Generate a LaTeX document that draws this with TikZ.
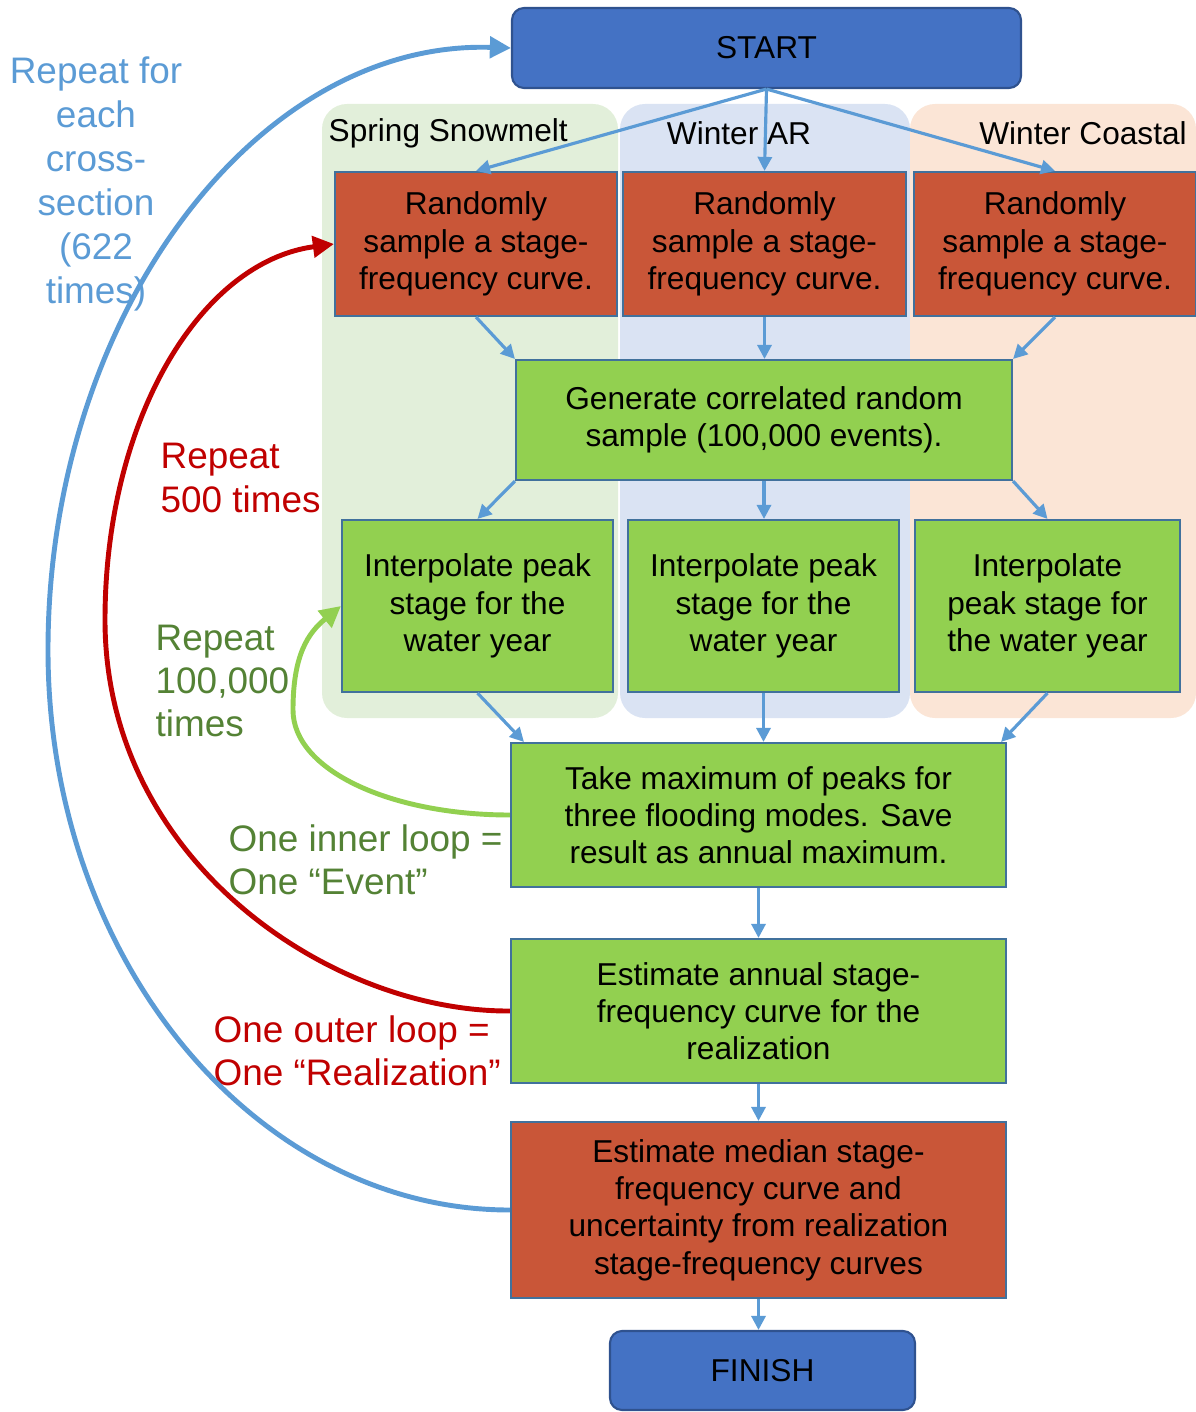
\documentclass[tikz,border=0pt]{standalone}
\usepackage{fontspec}
\setmainfont{Liberation Sans}
\usepackage{xcolor}
\usepackage{tikz}
\usetikzlibrary{arrows.meta}
\definecolor{flblue}{RGB}{68,114,196}
\definecolor{fldarkblue}{RGB}{47,82,143}
\definecolor{flborder}{RGB}{65,113,156}
\definecolor{flarrow}{RGB}{91,155,213}
\definecolor{flred}{RGB}{201,86,56}
\definecolor{flgreen}{RGB}{146,208,80}
\definecolor{fldarkred}{RGB}{192,0,0}
\definecolor{fltextgreen}{RGB}{84,130,53}
\definecolor{flpgreen}{RGB}{226,239,218}
\definecolor{flpblue}{RGB}{218,227,243}
\definecolor{flporange}{RGB}{251,229,214}

\begin{document}
\begin{tikzpicture}[every node/.style={font=\fontsize{9}{10.6}\selectfont},
    panel/.style={rounded corners=0.25cm, inner sep=0pt},
    termbox/.style={draw=fldarkblue, fill=flblue, rounded corners=0.12cm, line width=0.6pt, inner sep=0pt},
    redbox/.style={draw=flborder, fill=flred, line width=0.6pt, align=center, inner sep=0pt},
    greenbox/.style={draw=flborder, fill=flgreen, line width=0.6pt, align=center, inner sep=0pt},
    looptext/.style={font=\fontsize{10.5}{12.3}\selectfont, align=left, inner sep=0pt, anchor=west},
    flow/.style={-{Triangle[length=4pt, width=4pt]}, flarrow, line width=0.9pt},
    loop/.style={-{Triangle[length=6pt, width=6pt]}, line width=1.4pt}]
        \useasboundingbox (0,0) rectangle (11.96,-14.12);
        % background panels
        \node[panel, fill=flpgreen, minimum width=2.96cm, minimum height=6.14cm] (pnlA) at (4.70,-4.11) {};
        \node[panel, fill=flpblue, minimum width=2.90cm, minimum height=6.14cm] (pnlB) at (7.65,-4.11) {};
        \node[panel, fill=flporange, minimum width=2.86cm, minimum height=6.14cm] (pnlC) at (10.53,-4.11) {};
        \node[anchor=west, inner sep=0pt] (lblA) at (3.28,-1.33) {Spring Snowmelt};
        \node[inner sep=0pt] (lblB) at (7.39,-1.33) {Winter AR};
        \node[inner sep=0pt] (lblC) at (10.83,-1.33) {Winter Coastal};
        % main flow
        \node[termbox, minimum width=5.09cm, minimum height=0.80cm] (start) at (7.665,-0.48) {START};
        \node[redbox, minimum width=2.82cm, minimum height=1.44cm] (sampA) at (4.76,-2.44) {Randomly\\sample a stage-\\frequency curve.};
        \node[redbox, minimum width=2.83cm, minimum height=1.44cm] (sampB) at (7.645,-2.44) {Randomly\\sample a stage-\\frequency curve.};
        \node[redbox, minimum width=2.82cm, minimum height=1.44cm] (sampC) at (10.55,-2.44) {Randomly\\sample a stage-\\frequency curve.};
        \node[greenbox, minimum width=4.96cm, minimum height=1.20cm] (gen) at (7.64,-4.20) {Generate correlated random\\sample (100,000 events).};
        \node[greenbox, minimum width=2.71cm, minimum height=1.72cm] (interpA) at (4.775,-6.06) {Interpolate peak\\stage for the\\water year};
        \node[greenbox, minimum width=2.71cm, minimum height=1.72cm] (interpB) at (7.635,-6.06) {Interpolate peak\\stage for the\\water year};
        \node[greenbox, minimum width=2.65cm, minimum height=1.72cm] (interpC) at (10.475,-6.06) {Interpolate\\peak stage for\\the water year};
        \node[greenbox, minimum width=4.95cm, minimum height=1.44cm] (maxpk) at (7.585,-8.15) {Take maximum of peaks for\\three flooding modes. Save\\result as annual maximum.};
        \node[greenbox, minimum width=4.95cm, minimum height=1.44cm] (annual) at (7.585,-10.11) {Estimate annual stage-\\frequency curve for the\\realization};
        \node[redbox, minimum width=4.95cm, minimum height=1.76cm] (median) at (7.585,-12.10) {Estimate median stage-\\frequency curve and\\uncertainty from realization\\stage-frequency curves};
        \node[termbox, minimum width=3.05cm, minimum height=0.79cm] (finish) at (7.625,-13.705) {FINISH};
        % arrows
        \foreach \s in {sampA,sampB,sampC}
            \draw[flow] (start.south) -- (\s.north);
        \draw[flow] (sampA.south) -- (gen.north west);
        \draw[flow] (sampB.south) -- (sampB.south |- gen.north);
        \draw[flow] (sampC.south) -- (gen.north east);
        \draw[flow] (gen.south west) -- (interpA.north);
        \draw[flow] (gen.south) -- (gen.south |- interpB.north);
        \draw[flow] (gen.south east) -- (interpC.north);
        \draw[flow] (interpA.south) -- ([xshift=1.4mm]maxpk.north west);
        \draw[flow] (interpB.south) -- (interpB.south |- maxpk.north);
        \draw[flow] (interpC.south) -- ([xshift=-0.6mm]maxpk.north east);
        \draw[flow] (maxpk) -- (annual);
        \draw[flow] (annual) -- (median);
        \draw[flow] (median.south) -- (median.south |- finish.north);
        % loop labels
        \node[font=\fontsize{10.5}{12.5}\selectfont, align=center, text=flarrow, inner sep=0pt] (txtsect) at (0.96,-1.84) {Repeat for\\each\\cross-\\section\\(622\\times)};
        \node[looptext, text=fldarkred] (txtreal) at (1.60,-4.78) {Repeat\\500 times};
        \node[looptext, text=fltextgreen] (txtevt) at (1.55,-6.81) {Repeat\\100,000\\times};
        \node[looptext, text=fltextgreen] (txtinner) at (2.28,-8.60) {One inner loop =\\One “Event”};
        \node[looptext, text=fldarkred] (txtouter) at (2.13,-10.51) {One outer loop =\\One “Realization”};
        % loops
        \draw[loop, flgreen] (maxpk.west) .. controls (3.90,-8.15) and (2.93,-7.70) .. (2.93,-7.10)
            .. controls (2.93,-6.55) and (3.08,-6.33) .. (interpA.west);
        \draw[loop, fldarkred] (annual.west) .. controls (3.30,-10.12) and (1.05,-8.60) .. (1.05,-6.20)
            .. controls (1.05,-4.20) and (2.00,-2.62) .. (sampA.west);
        \draw[loop, flarrow] (median.west) .. controls (2.55,-12.10) and (0.48,-9.59) .. (0.48,-6.50)
            .. controls (0.48,-3.18) and (2.55,-0.40) .. (start.west);
      \end{tikzpicture}
\end{document}
